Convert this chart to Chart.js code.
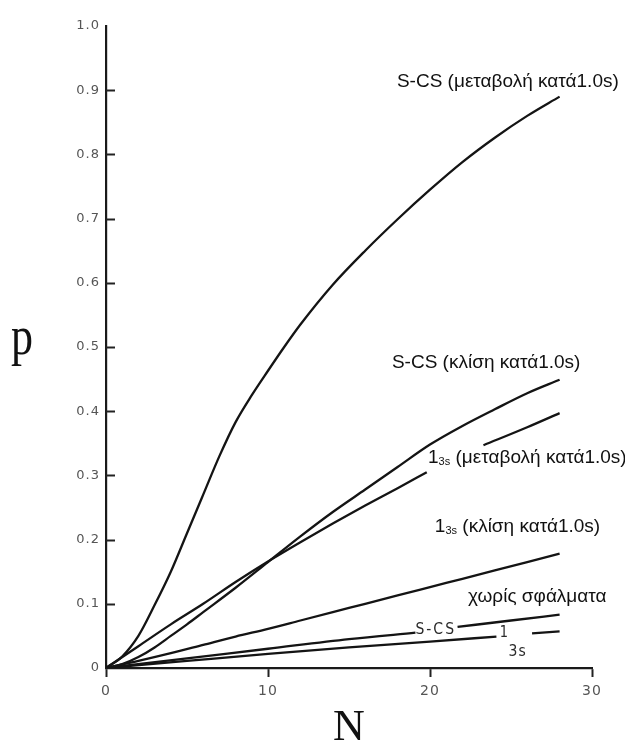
<!DOCTYPE html>
<html>
<head>
<meta charset="utf-8">
<script src="https://cdn.jsdelivr.net/npm/chart.js@4"></script>
<style>
  html, body { margin: 0; padding: 0; background: #fff; }
  #wrap { width: 625px; height: 744px; }
</style>
</head>
<body>
<div id="wrap"><canvas id="chart" width="625" height="744"></canvas></div>
<script>
// N values and probability p, one pair of arrays per curve
// (null = curve is broken where a label sits on it)
const nScsShift = [0, 1, 2, 3, 4, 5, 6, 7, 8, 9, 10, 11, 12, 14, 16, 18, 20, 22, 24, 26, 28];
const pScsShift = [0, 0.018, 0.05, 0.098, 0.15, 0.21, 0.27, 0.33, 0.383, 0.425, 0.463, 0.5, 0.535, 0.597, 0.65, 0.699, 0.745, 0.788, 0.826, 0.86, 0.89];

const nScsSlope = [0, 1, 2, 3, 4, 5, 6, 8, 10, 12, 14, 16, 18, 20, 22, 24, 26, 28];
const pScsSlope = [0, 0.006, 0.017, 0.032, 0.05, 0.068, 0.087, 0.125, 0.165, 0.205, 0.243, 0.278, 0.313, 0.348, 0.377, 0.403, 0.428, 0.449];

const n13sShift = [0, 2, 4, 6, 8, 10, 12, 14, 16, 18, 19.8, 21.5, 23.3, 26, 28];
const p13sShift = [0, 0.034, 0.068, 0.1, 0.134, 0.166, 0.196, 0.225, 0.253, 0.28, 0.305, null, 0.347, 0.375, 0.397];

const n13sSlope = [0, 2, 4, 6, 8, 10, 12, 14, 16, 18, 20, 22, 24, 26, 28];
const p13sSlope = [0, 0.011, 0.023, 0.036, 0.049, 0.061, 0.074, 0.087, 0.1, 0.113, 0.126, 0.139, 0.152, 0.165, 0.178];

const nScsNoErr = [0, 5, 10, 15, 19.1, 20.4, 21.7, 25, 28];
const pScsNoErr = [0, 0.015, 0.03, 0.045, 0.055, null, 0.064, 0.074, 0.083];

const n13sNoErr = [0, 5, 10, 15, 20, 24.1, 25.2, 26.3, 28];
const p13sNoErr = [0, 0.011, 0.022, 0.032, 0.041, 0.049, null, 0.054, 0.057];

const xTicks = [0, 10, 20, 30];
const yTicks = [0, 0.1, 0.2, 0.3, 0.4, 0.5, 0.6, 0.7, 0.8, 0.9, 1.0];

const toPoints = (ns, ps) => ns.map((n, i) => ({ x: n, y: ps[i] }));

const lineStyle = {
  borderColor: '#141414',
  borderWidth: 2.3,
  pointRadius: 0,
  fill: false,
  spanGaps: false,
  cubicInterpolationMode: 'monotone',
};

// curve labels (drawn on top, in data coordinates)
const curveLabels = [
  { n: 17.96, p: 0.913, parts: [{ t: 'S-CS (μεταβολή κατά1.0s)' }] },
  { n: 17.65, p: 0.475, parts: [{ t: 'S-CS (κλίση κατά1.0s)' }] },
  { n: 19.88, p: 0.327, parts: [{ t: '1' }, { t: '3s', sub: true }, { t: ' (μεταβολή κατά1.0s)' }] },
  { n: 20.3, p: 0.22, parts: [{ t: '1' }, { t: '3s', sub: true }, { t: ' (κλίση κατά1.0s)' }] },
  { n: 22.35, p: 0.111, parts: [{ t: 'χωρίς σφάλματα' }] },
];

const drawParts = (ctx, x, y, parts, size) => {
  let cx = x;
  parts.forEach(part => {
    if (part.sub) {
      ctx.font = `${Math.round(size * 0.56)}px "Liberation Sans", Arial, sans-serif`;
      ctx.fillText(part.t, cx, y + size * 0.22);
    } else {
      ctx.font = `${size}px "Liberation Sans", Arial, sans-serif`;
      ctx.fillText(part.t, cx, y);
    }
    cx += ctx.measureText(part.t).width;
  });
};

const decorPlugin = {
  id: 'decor',
  beforeDraw(chart) {
    chart.ctx.letterSpacing = '1px';
  },
  beforeDatasetsDraw(chart) {
    chart.ctx.letterSpacing = '0px';
  },
  afterDraw(chart) {
    const ctx = chart.ctx;
    const xs = chart.scales.x;
    const ys = chart.scales.y;
    ctx.save();

    // inward tick marks on the p axis
    ctx.strokeStyle = '#222';
    ctx.lineWidth = 2;
    yTicks.slice(1, -1).forEach(v => {
      const py = Math.round(ys.getPixelForValue(v)) + 0.5;
      ctx.beginPath();
      ctx.moveTo(xs.left, py);
      ctx.lineTo(xs.left + 9, py);
      ctx.stroke();
    });

    // labels next to the curves
    ctx.fillStyle = '#111';
    ctx.textAlign = 'left';
    ctx.textBaseline = 'middle';
    curveLabels.forEach(l => {
      drawParts(ctx, xs.getPixelForValue(l.n), ys.getPixelForValue(l.p), l.parts, 19);
    });

    // old inline labels from the original figure
    ctx.fillStyle = '#2a2a2a';
    const inline = (text, n, p, size, spacing) => {
      ctx.save();
      ctx.translate(xs.getPixelForValue(n), ys.getPixelForValue(p));
      ctx.scale(1, 1.15);
      ctx.letterSpacing = spacing;
      ctx.font = `${size}px "DejaVu Sans", sans-serif`;
      ctx.fillText(text, 0, 0);
      ctx.restore();
    };
    inline('S-CS', 19.1, 0.06, 14, '2px');
    inline('1', 24.3, 0.055, 13, '0px');
    inline('3s', 24.85, 0.025, 14, '1px');

    // axis titles
    ctx.fillStyle = '#111';
    ctx.textAlign = 'center';
    ctx.save();
    ctx.translate(22, 340);
    ctx.scale(1, 1.25);
    ctx.font = '44px "Liberation Serif", "Times New Roman", serif';
    ctx.fillText('p', 0, 0);
    ctx.restore();
    ctx.font = '44px "Liberation Serif", "Times New Roman", serif';
    ctx.fillText('N', (xs.left + xs.right) / 2, 728);

    ctx.restore();
  },
};

new Chart(document.getElementById('chart'), {
  type: 'line',
  data: {
    datasets: [
      { label: 'S-CS (μεταβολή κατά1.0s)', data: toPoints(nScsShift, pScsShift), ...lineStyle },
      { label: 'S-CS (κλίση κατά1.0s)', data: toPoints(nScsSlope, pScsSlope), ...lineStyle },
      { label: '1_3s (μεταβολή κατά1.0s)', data: toPoints(n13sShift, p13sShift), ...lineStyle },
      { label: '1_3s (κλίση κατά1.0s)', data: toPoints(n13sSlope, p13sSlope), ...lineStyle },
      { label: 'S-CS χωρίς σφάλματα', data: toPoints(nScsNoErr, pScsNoErr), ...lineStyle },
      { label: '1_3s χωρίς σφάλματα', data: toPoints(n13sNoErr, p13sNoErr), ...lineStyle },
    ],
  },
  options: {
    responsive: false,
    animation: false,
    layout: { padding: { left: 0, top: 26, right: 33, bottom: 0 } },
    plugins: {
      legend: { display: false },
      tooltip: { enabled: false },
    },
    scales: {
      x: {
        type: 'linear',
        min: 0,
        max: 30,
        afterBuildTicks: (scale) => { scale.ticks = xTicks.map(v => ({ value: v })); },
        afterFit: (scale) => { scale.height = 76; },
        ticks: {
          color: '#555',
          font: { family: '"DejaVu Sans", sans-serif', size: 14 },
          padding: 6,
          maxRotation: 0,
        },
        grid: {
          display: true,
          drawOnChartArea: false,
          drawTicks: true,
          tickLength: 9,
          tickWidth: 2,
          tickColor: '#222',
        },
        border: { display: true, color: '#1a1a1a', width: 2.2 },
      },
      y: {
        type: 'linear',
        min: 0,
        max: 1,
        afterBuildTicks: (scale) => { scale.ticks = yTicks.map(v => ({ value: v })); },
        afterFit: (scale) => { scale.width = 106; },
        ticks: {
          color: '#555',
          font: { family: '"DejaVu Sans", sans-serif', size: 13 },
          padding: 6,
          callback: (v) => (v === 0 ? '0' : v.toFixed(1)),
        },
        grid: { display: false, drawTicks: false },
        border: { display: true, color: '#1a1a1a', width: 2.2 },
      },
    },
  },
  plugins: [decorPlugin],
});
</script>
</body>
</html>
